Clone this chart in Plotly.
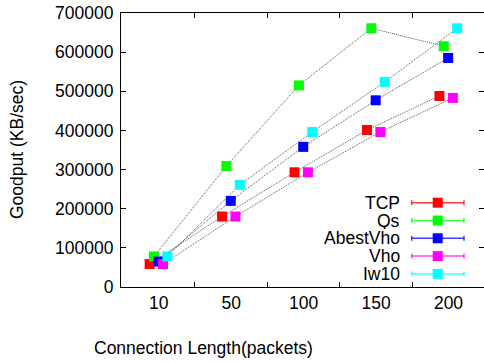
import plotly.graph_objects as go

categories = ["10", "50", "100", "150", "200"]
series_names = ["TCP", "Qs", "AbestVho", "Vho", "Iw10"]
tcp = [58600, 180000, 293000, 401000, 488000]
qs = [78000, 309000, 515000, 661000, 615000]
abestvho = [65000, 220000, 358000, 477000, 585000]
vho = [58600, 180000, 293000, 396000, 483000]
iw10 = [78000, 261000, 396000, 524000, 661000]
values = [tcp, qs, abestvho, vho, iw10]
colors = ["#ff0000", "#00ff00", "#0000ff", "#ff00ff", "#00ffff"]
offsets = [-0.125, -0.065, -0.005, 0.06, 0.12]
y_ticks = [0, 100000, 200000, 300000, 400000, 500000, 600000, 700000]

FONT = "Liberation Sans, Arial, sans-serif"
FS = 17.5
W, H = 484, 362
L, R, T, B = 121, 0, 13, 75
pw, ph = W - L - R, H - T - B

fig = go.Figure()
for name, vals, col, off in zip(series_names, values, colors, offsets):
    xs = [i + off for i in range(len(categories))]
    fig.add_trace(go.Scatter(
        x=xs, y=vals, mode="lines", name=name, showlegend=False,
        line=dict(color="#555555", width=1, dash="1px,1px"),
        hoverinfo="skip"))
for name, vals, col, off in zip(series_names, values, colors, offsets):
    xs = [i + off for i in range(len(categories))]
    fig.add_trace(go.Scatter(
        x=xs, y=vals, mode="markers", name=name, showlegend=False,
        marker=dict(symbol="square", size=10, color=col, line=dict(width=0))))

def px_x(p):
    return (p - L) / pw

def px_y(p):
    return (H - B - p) / ph

shapes = []
annotations = []
rows = [202.7, 220.5, 238.3, 256.1, 273.9]
for name, col, ry in zip(series_names, colors, rows):
    y0 = px_y(ry)
    shapes.append(dict(type="line", xref="paper", yref="paper",
                       x0=px_x(411.7), x1=px_x(464), y0=y0, y1=y0,
                       line=dict(color=col, width=1.5), opacity=0.75))
    for cx in (411.7, 464):
        shapes.append(dict(type="line", xref="paper", yref="paper",
                           x0=px_x(cx), x1=px_x(cx), y0=px_y(ry - 2.5), y1=px_y(ry + 2.5),
                           line=dict(color=col, width=1.5), opacity=0.75))
    shapes.append(dict(type="rect", xref="paper", yref="paper",
                       x0=px_x(437.7 - 5), x1=px_x(437.7 + 5),
                       y0=px_y(ry + 5), y1=px_y(ry - 5),
                       fillcolor=col, line=dict(width=0)))
    annotations.append(dict(text=name, xref="paper", yref="paper",
                            x=px_x(401), y=y0, xanchor="right", yanchor="middle",
                            height=16, borderpad=0, valign="middle",
                            showarrow=False, font=dict(family=FONT, size=FS, color="black")))

annotations.append(dict(text="Connection Length(packets)", xref="paper", yref="paper",
                        x=px_x(203), y=px_y(348), xanchor="center", yanchor="middle",
                        showarrow=False, font=dict(family=FONT, size=FS, color="black")))
annotations.append(dict(text="Goodput (KB/sec)", xref="paper", yref="paper",
                        x=px_x(17), y=0.5, xanchor="center", yanchor="middle", textangle=-90,
                        showarrow=False, font=dict(family=FONT, size=FS, color="black")))

fig.update_layout(
    width=W, height=H,
    margin=dict(l=L, r=R, t=T, b=B, pad=0),
    paper_bgcolor="white", plot_bgcolor="white",
    font=dict(family=FONT, size=FS, color="black"),
    shapes=shapes, annotations=annotations,
    xaxis=dict(range=[-0.52, 4.49], tickvals=list(range(len(categories))), ticktext=categories,
               ticks="", showgrid=False, zeroline=False, showline=True, linecolor="black",
               linewidth=1, mirror="ticks",
               minor=dict(tickvals=[0.5, 1.5, 2.5, 3.5], ticks="inside", ticklen=5,
                          tickcolor="black", showgrid=False),
               tickfont=dict(family=FONT, size=FS, color="black")),
    yaxis=dict(range=[0, 700000], tickvals=y_ticks, ticktext=[str(v) for v in y_ticks],
               ticks="inside", ticklen=5, tickcolor="black", showgrid=False, zeroline=False,
               showline=True, linecolor="black", linewidth=1, mirror=False,
               ticklabelstandoff=3,
               tickfont=dict(family=FONT, size=FS, color="black")),
    yaxis2=dict(range=[0, 700000], tickvals=y_ticks, overlaying="y", side="right",
                ticks="inside", ticklen=5, tickcolor="black", showgrid=False, zeroline=False,
                showline=False, showticklabels=False),
)
fig.add_trace(go.Scatter(x=[None], y=[None], yaxis="y2", showlegend=False, hoverinfo="skip"))

fig.write_html("out.html")
